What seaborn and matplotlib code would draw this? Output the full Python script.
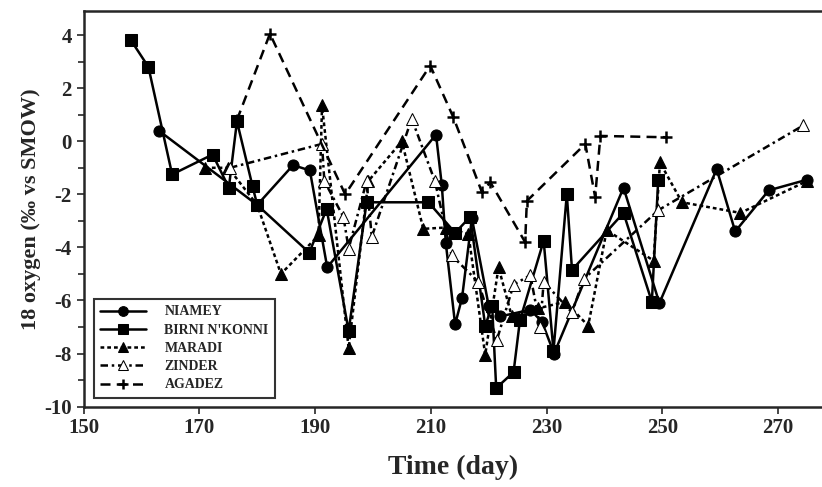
import matplotlib
matplotlib.use("Agg")
import matplotlib.pyplot as plt
from matplotlib.ticker import MultipleLocator
import pandas as pd
import seaborn as sns

# values (day of year, delta 18O)
niamey_day = [163.0, 180.0, 186.2, 189.1, 192.1, 210.9, 211.9, 212.6, 214.2, 215.4,
              217.1, 220.0, 222.0, 227.2, 229.2, 231.3, 243.3, 249.5, 259.4, 262.6,
              268.4, 275.0]
niamey_val = [0.4, -2.4, -0.9, -1.1, -4.75, 0.25, -1.65, -3.85, -6.9, -5.9,
              -2.9, -6.2, -6.6, -6.35, -6.8, -8.0, -1.75, -6.1, -1.05, -3.4,
              -1.85, -1.45]

birni_day = [158.2, 161.2, 165.3, 172.3, 175.1, 176.5, 179.2, 180.0, 189.0, 192.0,
             195.8, 198.9, 209.6, 214.2, 216.8, 219.4, 220.6, 221.3, 224.3, 225.4,
             229.5, 231.2, 233.5, 234.4, 243.3, 248.2, 249.3]
birni_val = [3.8, 2.8, -1.25, -0.5, -1.75, 0.75, -1.7, -2.4, -4.2, -2.55,
             -7.15, -2.3, -2.3, -3.45, -2.85, -6.95, -6.2, -9.3, -8.7, -6.75,
             -3.75, -7.9, -2.0, -4.85, -2.7, -6.05, -1.45]

maradi_day = [171.0, 175.0, 180.0, 184.1, 190.6, 191.2, 195.8, 199.2, 205.0, 208.7,
              212.7, 216.5, 219.4, 221.7, 224.0, 228.5, 233.2, 237.2, 240.4, 248.5,
              249.6, 253.4, 263.5, 275.0]
maradi_val = [-1.0, -1.0, -2.4, -5.0, -3.55, 1.35, -7.8, -1.5, 0.0, -3.3,
              -3.25, -3.5, -8.05, -4.75, -6.6, -6.3, -6.05, -6.95, -3.35, -4.5,
              -0.8, -2.3, -2.7, -1.5]

zinder_day = [175.3, 191.2, 191.6, 194.9, 195.8, 198.9, 199.8, 206.7, 210.7,
              213.6, 218.2, 221.4, 224.3, 227.2, 228.9, 229.5, 234.4, 236.4, 249.3,
              274.4]
zinder_val = [-1.0, -0.1, -1.5, -2.85, -4.05, -1.5, -3.6, 0.85, -1.5,
              -4.3, -5.3, -7.5, -5.4, -5.05, -7.0, -5.3, -6.45, -5.2, -2.6,
              0.6]

agadez_day = [176.5, 182.2, 195.2, 209.9, 213.9, 218.8, 220.3, 226.3, 226.6, 236.7,
              238.4, 239.3, 250.7]
agadez_val = [0.8, 4.05, -2.0, 2.85, 0.9, -1.9, -1.55, -3.8, -2.25, -0.1,
              -2.1, 0.2, 0.15]

sns.set_style("ticks")
plt.rcParams["font.family"] = ["Liberation Serif", "DejaVu Serif"]
plt.rcParams["font.weight"] = "bold"
plt.rcParams["axes.unicode_minus"] = False

fig = plt.figure(figsize=(8.22, 4.87), dpi=100)
ax = fig.add_axes([0.1017, 0.165, 0.8983, 0.812])

series = [
    ("NIAMEY", niamey_day, niamey_val, dict(marker="o", linestyle="-", markerfacecolor="black")),
    ("BIRNI N'KONNI", birni_day, birni_val, dict(marker="s", linestyle="-", markerfacecolor="black")),
    ("MARADI", maradi_day, maradi_val, dict(marker="^", linestyle=(0, (1.5, 1.2)), markerfacecolor="black")),
    ("ZINDER", zinder_day, zinder_val, dict(marker="^", linestyle=(0, (3, 1.5, 1, 1.5)), markerfacecolor="white")),
    ("AGADEZ", agadez_day, agadez_val, dict(marker="+", linestyle=(0, (4, 2.5)), markeredgewidth=1.8)),
]

for name, days, vals, style in series:
    df = pd.DataFrame({"day": days, "o18": vals})
    sns.lineplot(data=df, x="day", y="o18", sort=False, estimator=None, ax=ax,
                 color="black", linewidth=1.8, markersize=8, markeredgecolor="black",
                 label=name, **style)

ax.set_xlim(150, 277.6)
ax.set_ylim(-10, 4.9)
ax.set_xticks(range(150, 271, 20))
ax.yaxis.set_major_locator(MultipleLocator(2))
ax.yaxis.set_minor_locator(MultipleLocator(1))
ax.tick_params(axis="both", which="both", direction="out", width=1.2, labelsize=15)
ax.tick_params(axis="both", which="major", length=5)
ax.tick_params(axis="y", which="minor", length=4)
for lab in ax.get_xticklabels() + ax.get_yticklabels():
    lab.set_fontweight("bold")

for side in ["left", "bottom", "top"]:
    ax.spines[side].set_linewidth(1.8)
ax.spines["right"].set_visible(False)

ax.set_xlabel("Time (day)", fontsize=20, fontweight="bold", labelpad=12)
ax.set_ylabel("18 oxygen (‰ vs SMOW)", fontsize=16, fontweight="bold", labelpad=2)

leg = ax.legend(loc="lower left", bbox_to_anchor=(0.005, 0.005), frameon=True,
                fancybox=False, edgecolor="black", handlelength=3.3,
                prop={"family": ["Liberation Serif"], "weight": "bold", "size": 10},
                borderpad=0.45, labelspacing=0.38, handletextpad=1.3)
leg.get_frame().set_linewidth(1.5)
for h in leg.legend_handles:
    h.set_markersize(7)

fig.savefig("out.png", dpi=100)
